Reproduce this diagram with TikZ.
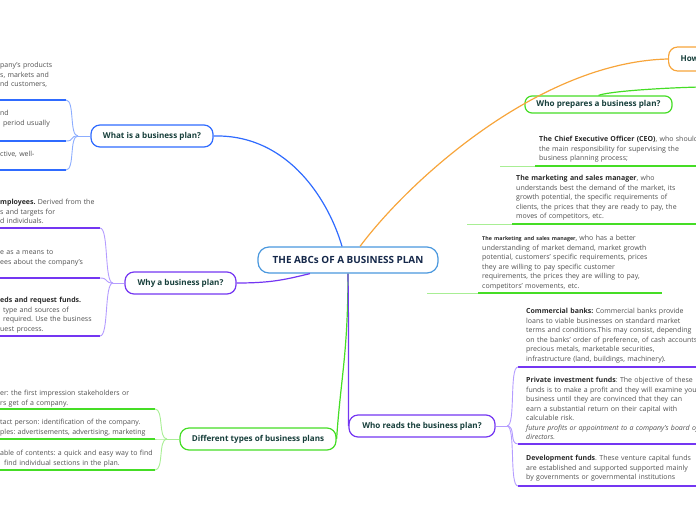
\documentclass[tikz,border=0pt]{standalone}
\usepackage{fontspec}
\setmainfont{Open Sans}
\usepackage{tikz}
\usetikzlibrary{positioning, calc}
\frenchspacing

\definecolor{abcblue}{HTML}{4A98DE}
\definecolor{abcink}{HTML}{15284A}
\definecolor{whatblue}{HTML}{2F6BFF}
\definecolor{whatlight}{HTML}{8CADFF}
\definecolor{whypurple}{HTML}{7436F2}
\definecolor{whylight}{HTML}{B49CFF}
\definecolor{typegreen}{HTML}{45DD25}
\definecolor{typelight}{HTML}{A8EE94}
\definecolor{howorange}{HTML}{F7A53B}
\definecolor{titleink}{HTML}{173F3B}
\definecolor{leafgray}{HTML}{505050}
\definecolor{leafdark}{HTML}{2A2A2A}

\newcommand{\leafb}[1]{\textbf{\color{leafdark}#1}}

\begin{document}
\begin{tikzpicture}[x=1pt, y=-1pt,
        topic/.style={draw, fill=white, rounded corners=9pt, line width=1.2pt, minimum height=22pt, inner sep=0pt, text=titleink, font=\fontsize{8.1}{9}\selectfont\bfseries},
        leaf/.style={anchor=north west, inner sep=0pt, text width=260pt, align=left, text=leafgray, font=\fontsize{7}{9.5}\selectfont, execute at begin node=\strut},
        branch/.style={line width=1.2pt},
        underline/.style={line width=1.5pt},
        twig/.style={line width=0.9pt}
    ]
        \useasboundingbox (0,0) rectangle (696,520);
        \clip (0,0) rectangle (696,520);

        % Central topic
        \node[topic, draw=abcblue, text=abcink, minimum width=180pt, minimum height=26pt, rounded corners=11pt, font=\fontsize{9.9}{11}\selectfont\bfseries] (abc) at (348,260) {THE ABCs OF A BUSINESS PLAN};

        % Main topics
        \node[topic, draw=whatblue, minimum width=122pt] (what) at (152,136) {What is a business plan?};
        \node[topic, draw=whypurple, minimum width=111pt] (why) at (180.5,283) {Why a business plan?};
        \node[topic, draw=typegreen, minimum width=156pt] (types) at (258,439) {Different types of business plans};
        \node[topic, draw=whypurple, minimum width=146pt] (reads) at (422,426) {Who reads the business plan?};
        \node[topic, draw=typegreen, minimum width=147pt, minimum height=17pt, rounded corners=7pt] (prep) at (598.5,104.5) {Who prepares a business plan?};
        \node[topic, draw=howorange, minimum height=24pt, text width=100pt, align=left, inner xsep=12pt, anchor=west] (how) at (668,59) {How};

        % Leaves of "What is a business plan?"
        \node[leaf] (what1) at (0,60.8) {pany's products\\s, markets and\\nd customers,};
        \node[leaf] (what2) at (0,108.8) {nd\\\hspace*{3pt}period usually};
        \node[leaf] (what3) at (0,149.8) {ctive, well-};

        % Leaves of "Why a business plan?"
        \node[leaf] (why1) at (0,197.8) {\leafb{mployees.} Derived from the\\s and targets for\\d individuals.};
        \node[leaf] (why2) at (0,247.8) {e as a means to\\ees about the company's};
        \node[leaf] (why3) at (0,295.8) {\leafb{eds and request funds.}\\\hspace*{3pt}type and sources of\\\hspace*{3pt}required. Use the business\\uest process.};

        % Leaves of "Different types of business plans"
        \node[leaf] (types1) at (0,388.8) {er: the first impression stakeholders or\\rs get of a company.};
        \node[leaf] (types2) at (0,417.8) {tact person: identification of the company.\\ples: advertisements, advertising, marketing};
        \node[leaf] (types3) at (0,448.8) {able of contents: a quick and easy way to find\\\hspace*{4pt}find individual sections in the plan.};

        % Leaves of "Who prepares a business plan?"
        \node[leaf] (prep1) at (539,134.8) {\leafb{The Chief Executive Officer (CEO)}, who should\\the main responsibility for supervising the\\business planning process;};
        \node[leaf] (prep2) at (516,173.8) {\leafb{The marketing and sales manager}, who\\understands best the demand of the market, its\\growth potential, the specific requirements of\\clients, the prices that they are ready to pay, the\\moves of competitors, etc.};
        \node[leaf] (prep3) at (482,233.8) {{\fontsize{5.3}{6}\selectfont\leafb{The marketing and sales manager,}} who has a better\\understanding of market demand, market growth\\potential, customers' specific requirements, prices\\they are willing to pay specific customer\\requirements, the prices they are willing to pay,\\competitors' movements, etc.};

        % Leaves of "Who reads the business plan?"
        \node[leaf] (reads1) at (526,306.8) {\leafb{Commercial banks:} Commercial banks provide\\loans to viable businesses on standard market\\terms and conditions.This may consist, depending\\on the banks' order of preference, of cash accounts\\precious metals, marketable securities,\\infrastructure (land, buildings, machinery).};
        \node[leaf] (reads2) at (526,375.8) {\leafb{Private investment funds}: The objective of these\\funds is to make a profit and they will examine your\\business until they are convinced that they can\\earn a substantial return on their capital with\\calculable risk.\\\textit{future profits or appointment to a company's board of}\\\textit{directors.}};
        \node[leaf] (reads3) at (526,453.8) {\leafb{Development funds}. These venture capital funds\\are established and supported supported mainly\\by governments or governmental institutions};

        % Branches from the central topic
        \draw[branch, whatblue] (what.east) .. controls +(77,-2) and +(-12,-42) .. ([xshift=-6pt]abc.north);
        \draw[branch, howorange] ([xshift=12pt]abc.north) .. controls +(50,-67) and +(-128,3) .. (how.west);
        \draw[branch, whypurple] (why.east) .. controls +(35,0) and +(-25,6) .. ([xshift=-38pt]abc.south);
        \draw[branch, typegreen] (abc.south) .. controls +(0,80) and +(4,-60) .. (types.east);
        \draw[branch, whypurple] (abc.south) .. controls +(1,80) and +(0,-40) .. (reads.west);
        \coordinate (prepedge) at (700,87);
        \draw[branch, typegreen] (prep.north) .. controls +(10,-4) and +(-40,1) .. (prepedge);

        % Underlines and twigs, left side
        \coordinate (whatj) at (78,136);
        \draw[twig, whatlight] (what.west) -- (whatj);
        \foreach \n/\y in {1/100, 2/141, 3/170} {
            \coordinate (whatu\n) at (66,\y);
            \draw[underline, whatblue] (whatu\n) -- ++(-70,0);
            \draw[twig, whatlight] (whatj) .. controls +(-9,0) and +(9,0) .. (whatu\n);
        }
        \coordinate (whyj) at (113,283);
        \draw[twig, whylight] (why.west) -- (whyj);
        \foreach \n/\y in {1/228, 2/278, 3/336} {
            \coordinate (whyu\n) at (100,\y);
            \draw[underline, whypurple] (whyu\n) -- ++(-104,0);
            \draw[twig, whylight] (whyj) .. controls +(-9,0) and +(9,0) .. (whyu\n);
        }
        \coordinate (typesj) at (167,439);
        \draw[twig, typelight] (types.west) -- (typesj);
        \foreach \n/\y in {1/409, 2/439, 3/470} {
            \coordinate (typesu\n) at (155,\y);
            \draw[underline, typegreen] (typesu\n) -- ++(-159,0);
            \draw[twig, typelight] (typesj) .. controls +(-9,0) and +(9,0) .. (typesu\n);
        }

        % Underlines and twigs, right side
        \coordinate (readsj) at (507,426);
        \draw[twig, whylight] (reads.east) -- (readsj);
        \foreach \n/\y in {1/367, 2/444, 3/486} {
            \coordinate (readsu\n) at (518,\y);
            \draw[underline, whypurple] (readsu\n) -- ++(190,0);
            \draw[twig, whylight] (readsj) .. controls +(9,0) and +(-9,0) .. (readsu\n);
        }
        \foreach \n/\y/\a/\b/\e in {1/166/500/535/700, 2/224/467/512/700, 3/293/427/478/662} {
            \coordinate (prepa\n) at (\a,\y);
            \coordinate (prepu\n) at (\b,\y);
            \draw[twig, typelight] (prepa\n) -- (prepu\n);
            \draw[underline, typegreen] (prepu\n) -- (\e,\y);
        }
\end{tikzpicture}
\end{document}
